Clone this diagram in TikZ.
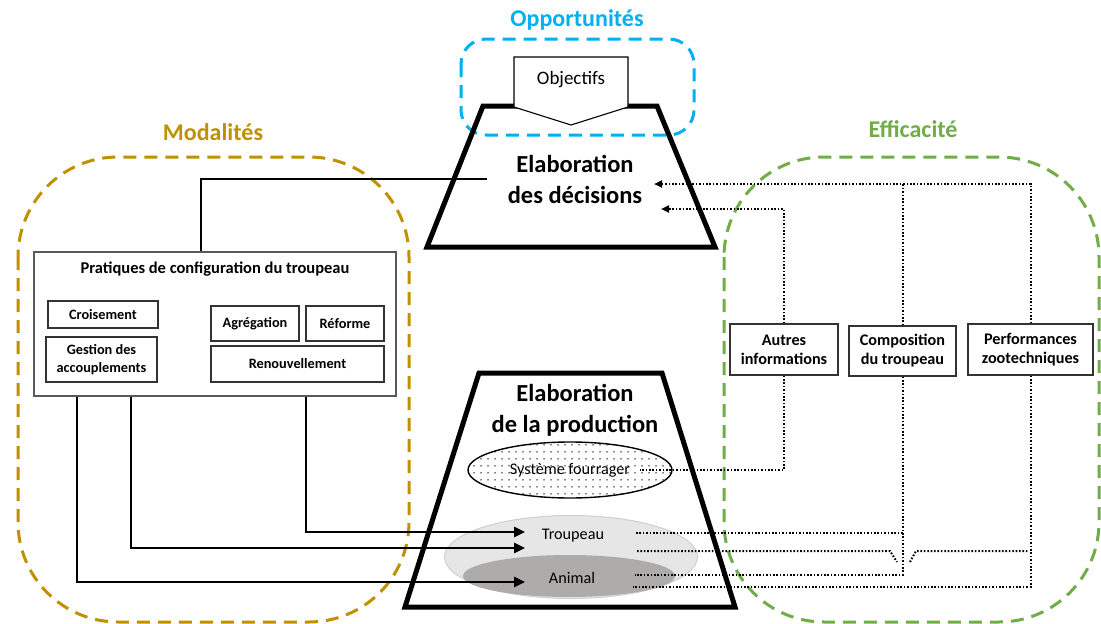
\documentclass[tikz,border=0pt]{standalone}
\usepackage{fontspec}
\setmainfont{Carlito}
\usetikzlibrary{arrows.meta,patterns.meta,shapes.geometric}
\definecolor{cyanO}{HTML}{00B0F0}
\definecolor{goldM}{HTML}{BF9000}
\definecolor{greenE}{HTML}{70AD47}
\definecolor{trLight}{HTML}{E7E6E6}
\definecolor{trBorder}{HTML}{D0CECE}
\definecolor{anDark}{HTML}{AEABAB}
\definecolor{boxGrey}{HTML}{595959}
\begin{document}
\begin{tikzpicture}[x=1pt,y=-1pt,
  region/.style={line width=3pt, dash pattern=on 13pt off 8pt, rounded corners=#1},
  regtitle/.style={font=\bfseries\fontsize{24}{28}\selectfont},
  trap/.style={line width=5pt, line join=miter},
  bigtitle/.style={font=\bfseries\fontsize{24.5}{31}\selectfont, align=center},
  bigbox/.style={draw=boxGrey, line width=1.2pt, fill=white, inner sep=0pt},
  sbox/.style={draw=black!80, line width=1.1pt, inner sep=0pt, align=center, font=\bfseries\fontsize{14.3}{18}\selectfont},
  rbox/.style={draw=black!80, line width=1.1pt, inner sep=0pt, align=center, fill=white, font=\bfseries\fontsize{16.2}{19}\selectfont},
  lbl/.style={font=\fontsize{16.2}{18}\selectfont},
  conn/.style={line width=2.5pt},
  carrow/.style={conn, -{Triangle[length=11pt,width=10pt]}},
  dotline/.style={line width=2pt, dash pattern=on 1.6pt off 1.8pt},
  darrow/.style={dotline, -{Triangle[length=8pt,width=7pt]}}
]
\useasboundingbox (0,0) rectangle (1101,624);

% regions
\draw[region=25pt, cyanO] (461,39) rectangle (694,135);
\draw[region=100pt, goldM] (18,157) rectangle (409,622);
\draw[region=100pt, greenE] (724,157) rectangle (1099,622);
\node[regtitle, text=cyanO] (topp) at (577,20) {Opportunités};
\node[regtitle, text=goldM] (tmod) at (213,132) {Modalités};
\node[regtitle, text=greenE] (teff) at (913,129) {Efficacité};

% decision trapezoid
\draw[trap] (483,106) -- (657,106) -- (715,247) -- (427,247) -- cycle;
\draw[line width=1.1pt, fill=white] (514,57) -- (628,57) -- (628,107) -- (571,125) -- (514,107) -- cycle;
\node[font=\fontsize{19}{22}\selectfont] (obj) at (571,80) {Objectifs};
\node[bigtitle] (dec) at (575,179) {Elaboration\\des décisions};

% production trapezoid
\draw[trap] (479,373) -- (662,373) -- (735,607) -- (405,607) -- cycle;
\node[bigtitle] (prod) at (575,410) {Elaboration\\de la production};
\node[ellipse, draw, line width=1.4pt, minimum width=204pt, minimum height=56pt, inner sep=0pt,
      pattern={Dots[radius=0.8pt, distance=6.5pt]}] (sf) at (570,470) {};
\node[lbl] (sft) at (570,470) {Système fourrager};
\node[ellipse, draw=trBorder, line width=1pt, fill=trLight, minimum width=253pt, minimum height=83pt, inner sep=0pt] (trE) at (571,557) {};
\node[ellipse, fill=anDark, minimum width=212pt, minimum height=42pt, inner sep=0pt] (anE) at (569,576) {};
\node[lbl] (trt) at (573,536) {Troupeau};
\node[lbl] (ant) at (572,578) {Animal};

% left box
\node[bigbox, minimum width=362pt, minimum height=144pt] (prat) at (215,324) {};
\node[font=\bfseries\fontsize{16.5}{19}\selectfont] (pratT) at (215,269) {Pratiques de configuration du troupeau};
\node[sbox, minimum width=110pt, minimum height=27pt] (crois) at (103,314.5) {Croisement};
\node[sbox, minimum width=111pt, minimum height=45pt] (gest) at (101.5,359.5) {Gestion des\\accouplements};
\node[sbox, minimum width=88pt, minimum height=35pt] (agr) at (255,323.5) {Agrégation};
\node[sbox, minimum width=78pt, minimum height=35pt] (ref) at (345,323.5) {Réforme};
\node[sbox, minimum width=173pt, minimum height=36pt] (ren) at (297.5,364) {Renouvellement};

% right boxes
\node[rbox, minimum width=108pt, minimum height=51pt] (autres) at (784,349.5) {Autres\\informations};
\node[rbox, minimum width=107pt, minimum height=50pt] (comp) at (902.5,351) {Composition\\du troupeau};
\node[rbox, minimum width=125pt, minimum height=51pt] (perf) at (1030.5,349.5) {Performances\\zootechniques};

% coordinates
\coordinate (decL) at (487,179);
\coordinate (decR1) at (654,184);
\coordinate (decR2) at (661,209);
\coordinate (tin1) at (525,532);
\coordinate (tin2) at (525,548);
\coordinate (ain) at (525,582);
\coordinate (sfR) at (640,470);
\coordinate (trR1) at (636,533);
\coordinate (trR2) at (637,551);
\coordinate (anR1) at (635,575);
\coordinate (anR2) at (633,587);
\coordinate (hopA) at (890,551);
\coordinate (hopB) at (897,562);
\coordinate (hopC) at (910,562);
\coordinate (hopD) at (916,551);

% solid connectors
\draw[conn] (decL) -| ([xshift=-14pt]prat.north);
\draw[carrow] ([xshift=91pt]prat.south) |- (tin1);
\draw[carrow] ([xshift=-84pt]prat.south) |- (tin2);
\draw[carrow] ([xshift=-138pt]prat.south) |- (ain);

% dotted connectors
\draw[darrow] (perf.north) |- (decR1);
\draw[dotline] (comp.north) -- (comp.north |- decR1);
\draw[darrow] (autres.north) |- (decR2);
\draw[dotline] (autres.south) |- (sfR);
\draw[dotline] (comp.south) |- (anR1);
\draw[dotline] (trR1) -- (comp.south |- trR1);
\draw[dotline] (trR2) -- (hopA) -- (hopB);
\draw[dotline] (hopC) -- (hopD) -- ([xshift=-3pt]perf.south |- trR2);
\draw[dotline] (perf.south) |- (anR2);
\end{tikzpicture}
\end{document}
